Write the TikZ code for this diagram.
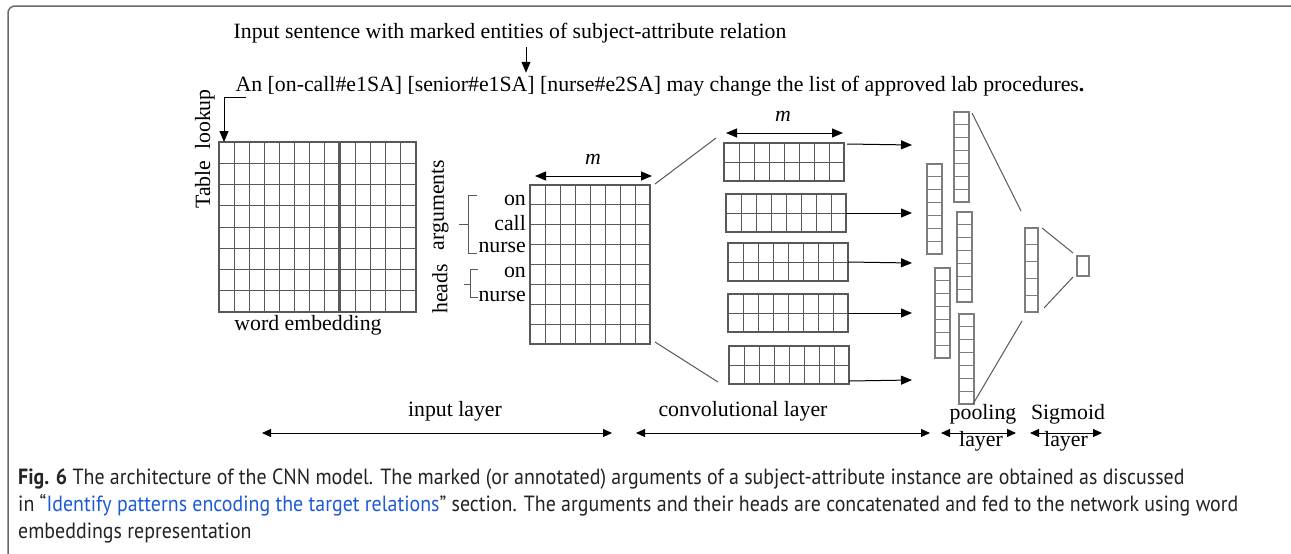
\documentclass[tikz,border=0pt]{standalone}
\usepackage{fontspec}
\setmainfont{Liberation Serif}
\newfontfamily\capfont[FakeStretch=0.905]{PT Sans}
\usetikzlibrary{arrows.meta,calc}

\definecolor{gridgray}{RGB}{88,88,88}
\definecolor{poolgray}{RGB}{125,125,125}
\definecolor{framegray}{RGB}{105,105,105}
\definecolor{linkblue}{RGB}{30,90,215}
\definecolor{captionink}{RGB}{35,35,35}

% inner cell lines of a rectangular node: [style]{node}{columns}{rows}
\newcommand\cellgrid[4][]{%
  \pgfmathtruncatemacro\cgcols{#3-1}%
  \pgfmathtruncatemacro\cgrows{#4-1}%
  \ifnum\cgcols>0
  \foreach \i in {1,...,\cgcols}{%
    \draw[cellline,#1] ($(#2.north west)!\i/#3!(#2.north east)$) -- ($(#2.south west)!\i/#3!(#2.south east)$);}%
  \fi
  \foreach \j in {1,...,\cgrows}{%
    \draw[cellline,#1] ($(#2.north west)!\j/#4!(#2.south west)$) -- ($(#2.north east)!\j/#4!(#2.south east)$);}%
}

\tikzset{
  txt/.style={inner sep=0pt, font=\fontsize{21.8}{24}\selectfont},
  gridbox/.style={draw=gridgray, line width=1.1pt, inner sep=0pt, outer sep=0pt, anchor=north west},
  poolbox/.style={gridbox, draw=poolgray, minimum width=15pt, minimum height=90pt},
  convbox/.style={gridbox, minimum width=120pt, minimum height=38pt},
  cellline/.style={draw=gridgray, line width=1pt},
  poolline/.style={draw=poolgray, line width=1pt},
  funnel/.style={draw=gridgray, line width=1pt},
  tip/.style={line width=1pt, -{Triangle[length=11pt,width=9pt]}},
  dimarrow/.style={line width=1pt, {Triangle[length=11pt,width=9pt]}-{Triangle[length=11pt,width=9pt]}},
  layerarrow/.style={line width=1pt, {Triangle[length=9pt,width=8pt]}-{Triangle[length=9pt,width=8pt]}},
  bracket/.style={draw=gridgray, line width=1pt},
  captext/.style={inner sep=0pt, anchor=base west, text=captionink, font=\capfont\fontsize{22}{24}\selectfont},
}

\begin{document}
\begin{tikzpicture}[x=1pt, y=-1pt]
\useasboundingbox (0,0) rectangle (1291,554);

% frame
\draw[framegray, line width=1.5pt, rounded corners=7pt] (8,560) -- (8,6) -- (1300,6);

% sentence and its header
\node[txt] (title) at (510,33) {Input sentence with marked entities of subject-attribute relation};
\node[txt] (sent) at (660,86) {An [on-call\#e1SA] [senior\#e1SA] [nurse\#e2SA] may change the list of approved lab procedures\textbf{.}};
\draw[tip, shorten <=4pt, shorten >=3pt] ([xshift=16pt]title.south) -- ([xshift=-134pt]sent.north);

% word embedding table
\node[gridbox, minimum width=120pt, minimum height=170pt] (embL) at (219,142) {};
\node[gridbox, minimum width=76pt, minimum height=170pt] (embR) at (340,142) {};
\cellgrid{embL}{8}{8}
\cellgrid{embR}{5}{8}
\node[txt, rotate=90] (lookup) at (205,149) {Table\ \ lookup};
\node[txt] (embtxt) at (308,325) {word embedding};
\coordinate (lkstart) at (246,97);
\draw[tip] (lkstart) -| ([xshift=5pt]embL.north west);

% input matrix
\node[gridbox, minimum width=120pt, minimum height=159pt] (inp) at (530,185) {};
\cellgrid{inp}{8}{8}
\draw[dimarrow] ([xshift=5pt, yshift=9pt]inp.north west) -- ([xshift=2pt, yshift=9pt]inp.north east);
\node[txt, font=\fontsize{21.8}{24}\selectfont\itshape] (m1) at (593,159) {m};

\node[txt, anchor=east] (w1) at (526,200) {on};
\node[txt, anchor=east] (w2) at (526,223) {call};
\node[txt, anchor=east] (w3) at (526,247) {nurse};
\node[txt, anchor=east] (w4) at (526,272) {on};
\node[txt, anchor=east] (w5) at (526,296) {nurse};

\draw[bracket] (477,195) -- (468,195) -- (468,253) -- (477,253);
\draw[bracket] (468,224) -- (459,224);
\draw[bracket] (478,269) -- (470,269) -- (470,297) -- (478,297);
\draw[bracket] (470,284) -- (464,284);
\node[txt, rotate=90] (args) at (440,205) {arguments};
\node[txt, rotate=90] (heads) at (440,289) {heads};

% convolutional layer
\node[convbox] (c1) at (724,143) {};
\node[convbox] (c2) at (726,194) {};
\node[convbox] (c3) at (728,243) {};
\node[convbox] (c4) at (728,294) {};
\node[convbox] (c5) at (729,346) {};
\foreach \c in {c1,c2,c3,c4,c5} {\cellgrid{\c}{8}{2}}
\draw[dimarrow] ([xshift=2pt, yshift=10pt]c1.north west) -- ([xshift=-1pt, yshift=10pt]c1.north east);
\node[txt, font=\fontsize{21.8}{24}\selectfont\itshape] (m2) at (783,116) {m};

\draw[funnel] ([xshift=5pt, yshift=1pt]inp.north east) -- ([xshift=-8pt, yshift=5pt]c1.north west);
\draw[funnel] ([xshift=5pt, yshift=2pt]inp.south east) -- ([xshift=-11pt, yshift=2pt]c5.south west);

% pooling layer
\node[poolbox] (pA) at (954,112) {};
\node[poolbox] (pB) at (927,164) {};
\node[poolbox] (pC) at (957,212) {};
\node[poolbox] (pD) at (935,268) {};
\node[poolbox] (pE) at (959,314) {};
\foreach \p in {pA,pB,pC,pD,pE} {\cellgrid[poolline]{\p}{1}{7}}

\coordinate (t1) at (912,145);
\coordinate (t2) at (912,213);
\coordinate (t3) at (912,263);
\coordinate (t4) at (912,313);
\coordinate (t5) at (912,380);
\draw[tip] ([xshift=3pt, yshift=-1pt]c1.north east) -- (t1);
\draw[tip] (c2.east) -- (t2);
\draw[tip] (c3.east) -- (t3);
\draw[tip] (c4.east) -- (t4);
\draw[tip] ([yshift=3pt]c5.south east) -- (t5);

% concatenated vector and sigmoid output
\node[gridbox, draw=poolgray, minimum width=13pt, minimum height=84pt] (q) at (1025,228) {};
\cellgrid[poolline]{q}{1}{5}
\node[gridbox, draw=poolgray, minimum width=12pt, minimum height=20pt] (s) at (1077,256) {};

\draw[funnel] ([xshift=3pt, yshift=-1pt]pA.north east) -- ([xshift=-4pt, yshift=17pt]q.north west);
\draw[funnel] ([xshift=-1pt]pE.south east) -- ([xshift=-3pt, yshift=-9pt]q.south west);
\draw[funnel] ([xshift=4pt]q.north east) -- ([xshift=-4pt, yshift=3pt]s.north west);
\draw[funnel] ([xshift=6pt, yshift=4pt]q.south east) -- ([xshift=-4pt, yshift=-1pt]s.south west);

% layer ranges
\node[txt] (lin) at (455,411) {input layer};
\node[txt] (lconv) at (743,411) {convolutional layer};
\node[txt] (lpool) at (983,414) {pooling};
\node[txt] (lpool2) at (981,441) {layer};
\node[txt] (lsig) at (1068,414) {Sigmoid};
\node[txt] (lsig2) at (1066,441) {layer};
\coordinate (a1) at (262,433); \coordinate (a2) at (612,433);
\coordinate (b1) at (636,433); \coordinate (b2) at (930,433);
\coordinate (d1) at (941,433); \coordinate (d2) at (1016,433);
\coordinate (e1) at (1030,433); \coordinate (e2) at (1102,433);
\draw[layerarrow] (a1) -- (a2);
\draw[layerarrow] (b1) -- (b2);
\draw[layerarrow] (d1) -- (d2);
\draw[layerarrow] (e1) -- (e2);

% caption
\node[captext] (cap1) at (18,484) {\textbf{Fig. 6} The architecture of the CNN model. The marked (or annotated) arguments of a subject-attribute instance are obtained as discussed};
\node[captext] (cap2) at (18,511) {in “\textcolor{linkblue}{Identify patterns encoding the target relations}” section. The arguments and their heads are concatenated and fed to the network using word};
\node[captext] (cap3) at (18,538) {embeddings representation};
\end{tikzpicture}
\end{document}
